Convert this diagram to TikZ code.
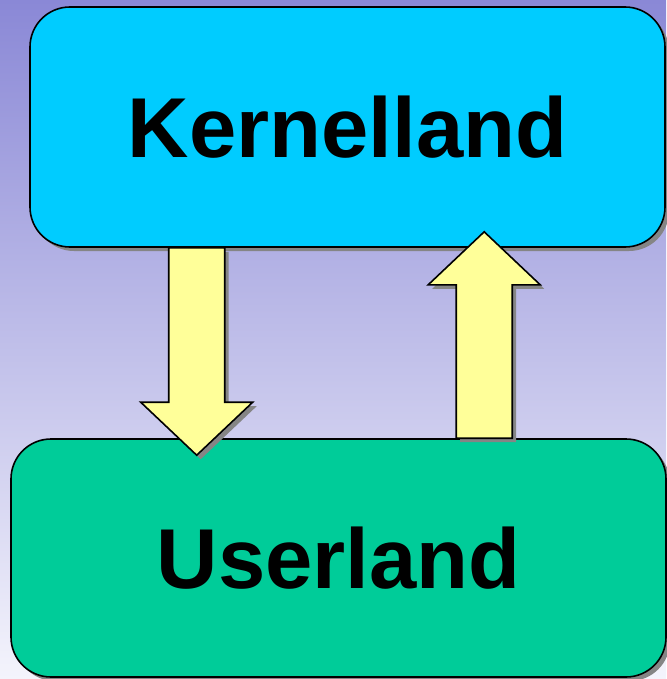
\documentclass[tikz,border=0pt]{standalone}
\usepackage{fontspec}
\setmainfont{Liberation Sans}
\usetikzlibrary{shadows}
\usetikzlibrary{calc}

\tikzset{
    shadowed/.style={drop shadow={shadow xshift=4pt, shadow yshift=-4pt, fill=black!48, opacity=1}},
    landbox/.style={shadowed, draw=black, line width=1.6pt, rounded corners=40pt,
        font=\fontsize{85}{100}\selectfont\bfseries, text=black, inner sep=0pt},
    blockarrow/.style={shadowed, draw=black, fill=arrowyellow, line width=1.6pt, line join=miter},
}
\definecolor{kernelcyan}{HTML}{00CCFF}
\definecolor{usergreen}{HTML}{00CC99}
\definecolor{arrowyellow}{HTML}{FFFF99}
\definecolor{bgtop}{HTML}{8A88D6}
\definecolor{bgbottom}{HTML}{F4F4FC}

% vertical block arrow: #1 tail point, #2 tip point
\newcommand{\blockarrow}[2]{%
    \filldraw [blockarrow] let \p1 = (#1), \p2 = (#2), \n1 = {sign(\y2-\y1)} in
        (\x1-28pt, \y1) -- (\x1-28pt, \y2-\n1*53pt) -- (\x1-56pt, \y2-\n1*53pt)
        -- (\x1, \y2) -- (\x1+56pt, \y2-\n1*53pt) -- (\x1+28pt, \y2-\n1*53pt)
        -- (\x1+28pt, \y1) -- cycle;
}

\begin{document}
\begin{tikzpicture}[x=1pt, y=-1pt]
    % background
    \shade [top color=bgtop, bottom color=bgbottom] (0, 0) rectangle (666, 679);
    \useasboundingbox (0, 0) rectangle (666, 679);
    % the two lands
    \node [landbox, fill=kernelcyan, minimum width=635pt, minimum height=240pt] (kernel) at (347.5, 127) {Kernelland};
    \node [landbox, fill=usergreen, minimum width=655pt, minimum height=238pt] (user) at (338.5, 558) {Userland};
    % kernel to user
    \coordinate (downtail) at ($(kernel.south west)+(167.5, 0)$);
    \coordinate (downtip) at ($(downtail |- user.north)+(0, 17)$);
    \blockarrow{downtail}{downtip}
    % user to kernel
    \coordinate (uptail) at ($(user.north west)+(474, 0)$);
    \coordinate (uptip) at ($(uptail |- kernel.south)+(0, -16)$);
    \blockarrow{uptail}{uptip}
\end{tikzpicture}
\end{document}
